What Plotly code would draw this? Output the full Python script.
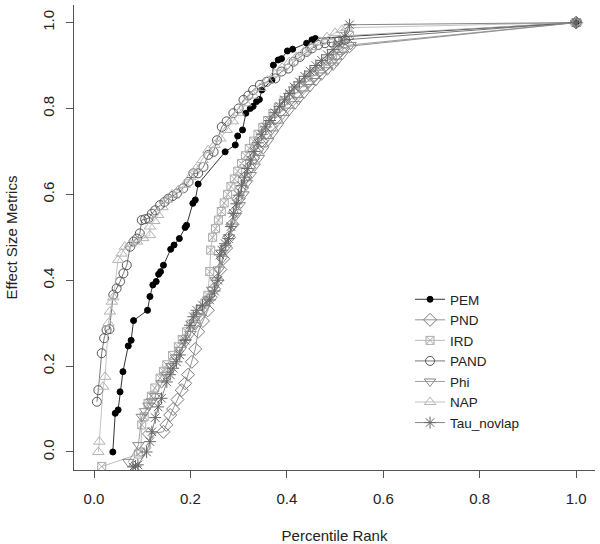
import plotly.graph_objects as go

# ---------------- data ----------------
pem_x = [0.039, 0.044, 0.050, 0.054, 0.060, 0.071, 0.077, 0.082, 0.111, 0.116, 0.122, 0.129, 0.134, 0.138, 0.144,
         0.159, 0.166, 0.177, 0.189, 0.192, 0.205, 0.210, 0.216, 0.272, 0.293, 0.298, 0.308, 0.315, 0.324, 0.330,
         0.337, 0.343, 0.348, 0.369, 0.372, 0.382, 0.389, 0.401, 0.412, 0.441, 0.452, 0.459, 1.0]
pem_y = [0.000, 0.090, 0.098, 0.140, 0.187, 0.247, 0.260, 0.306, 0.330, 0.362, 0.389, 0.397, 0.414, 0.420, 0.435,
         0.472, 0.482, 0.497, 0.523, 0.528, 0.579, 0.587, 0.624, 0.699, 0.715, 0.736, 0.750, 0.789, 0.800, 0.805,
         0.816, 0.821, 0.843, 0.866, 0.901, 0.913, 0.916, 0.934, 0.938, 0.952, 0.960, 0.963, 1.0]

pnd_x = [0.114, 0.144, 0.150, 0.158, 0.164, 0.173, 0.182, 0.189, 0.195, 0.203, 0.210, 0.216, 0.226, 0.236, 0.242,
         0.249, 0.256, 0.262, 0.268, 0.274, 0.280, 0.287, 0.293, 0.300, 0.307, 0.314, 0.322, 0.330, 0.338, 0.347,
         0.356, 0.366, 0.376, 0.386, 0.397, 0.408, 0.419, 0.431, 0.443, 0.455, 0.467, 0.479, 0.491, 0.503, 0.517,
         0.530, 1.0]
pnd_y = [0.042, 0.047, 0.063, 0.086, 0.100, 0.122, 0.144, 0.160, 0.180, 0.210, 0.240, 0.280, 0.305, 0.330, 0.360,
         0.380, 0.400, 0.425, 0.450, 0.475, 0.500, 0.530, 0.560, 0.590, 0.615, 0.640, 0.662, 0.684, 0.705, 0.724,
         0.742, 0.760, 0.777, 0.793, 0.808, 0.822, 0.836, 0.850, 0.863, 0.876, 0.888, 0.900, 0.912, 0.925, 0.940,
         0.945, 1.0]

ird_x = [0.016, 0.092, 0.097, 0.099, 0.104, 0.112, 0.119, 0.126, 0.137, 0.144, 0.151, 0.163, 0.175, 0.183, 0.192,
         0.201, 0.210, 0.220, 0.230, 0.236, 0.240, 0.242, 0.246, 0.252, 0.258, 0.264, 0.270, 0.277, 0.284, 0.291,
         0.298, 0.306, 0.314, 0.322, 0.331, 0.340, 0.350, 0.360, 0.371, 0.382, 0.394, 0.406, 0.418, 0.430, 0.443,
         0.456, 0.469, 0.482, 0.495, 0.508, 0.520, 0.530, 1.0]
ird_y = [-0.034, -0.005, 0.000, 0.063, 0.082, 0.113, 0.130, 0.149, 0.172, 0.188, 0.203, 0.225, 0.245, 0.262, 0.280,
         0.298, 0.315, 0.332, 0.347, 0.365, 0.420, 0.470, 0.500, 0.520, 0.540, 0.560, 0.580, 0.600, 0.618, 0.636,
         0.654, 0.672, 0.690, 0.707, 0.724, 0.740, 0.756, 0.772, 0.788, 0.803, 0.818, 0.832, 0.846, 0.860, 0.873,
         0.886, 0.898, 0.910, 0.922, 0.935, 0.950, 0.970, 1.0]

pand_x = [0.006, 0.009, 0.016, 0.021, 0.026, 0.032, 0.040, 0.047, 0.054, 0.061, 0.068, 0.075, 0.082, 0.089, 0.095,
          0.099, 0.106, 0.113, 0.120, 0.127, 0.137, 0.146, 0.154, 0.163, 0.172, 0.185, 0.196, 0.206, 0.216, 0.227,
          0.237, 0.248, 0.255, 0.265, 0.275, 0.289, 0.300, 0.310, 0.320, 0.330, 0.344, 0.358, 0.376, 0.389, 0.403,
          0.414, 0.427, 0.441, 0.452, 0.465, 0.479, 0.493, 0.507, 0.521, 1.0]
pand_y = [0.117, 0.144, 0.230, 0.265, 0.284, 0.286, 0.366, 0.381, 0.397, 0.416, 0.435, 0.478, 0.490, 0.497, 0.509,
          0.540, 0.542, 0.544, 0.555, 0.563, 0.575, 0.582, 0.590, 0.596, 0.602, 0.614, 0.629, 0.649, 0.649, 0.664,
          0.692, 0.699, 0.726, 0.757, 0.770, 0.789, 0.800, 0.820, 0.830, 0.843, 0.855, 0.862, 0.870, 0.886, 0.893,
          0.909, 0.920, 0.932, 0.940, 0.948, 0.952, 0.954, 0.956, 0.960, 1.0]

phi_x = [0.071, 0.092, 0.099, 0.106, 0.113, 0.120, 0.127, 0.140, 0.150, 0.160, 0.170, 0.180, 0.190, 0.200, 0.210,
         0.220, 0.229, 0.237, 0.245, 0.252, 0.259, 0.266, 0.273, 0.280, 0.287, 0.294, 0.302, 0.310, 0.317, 0.325,
         0.333, 0.342, 0.351, 0.361, 0.371, 0.382, 0.393, 0.405, 0.417, 0.424, 0.436, 0.448, 0.460, 0.472, 0.484,
         0.496, 0.503, 0.515, 0.532, 1.0]
phi_y = [-0.023, 0.016, 0.082, 0.095, 0.108, 0.118, 0.130, 0.160, 0.180, 0.200, 0.220, 0.238, 0.256, 0.275, 0.295,
         0.315, 0.335, 0.355, 0.378, 0.400, 0.425, 0.450, 0.475, 0.500, 0.525, 0.550, 0.575, 0.600, 0.626, 0.645,
         0.665, 0.685, 0.705, 0.724, 0.742, 0.760, 0.778, 0.795, 0.810, 0.820, 0.835, 0.850, 0.864, 0.877, 0.889,
         0.900, 0.909, 0.925, 0.948, 1.0]

nap_x = [0.009, 0.011, 0.019, 0.023, 0.030, 0.033, 0.037, 0.040, 0.050, 0.057, 0.064, 0.075, 0.089, 0.102, 0.116,
         0.116, 0.125, 0.133, 0.142, 0.151, 0.162, 0.175, 0.188, 0.200, 0.212, 0.225, 0.237, 0.250, 0.262, 0.275,
         0.288, 0.300, 0.315, 0.330, 0.345, 0.360, 0.375, 0.390, 0.405, 0.420, 0.435, 0.450, 0.468, 0.483, 0.500,
         0.514, 0.524, 1.0]
nap_y = [0.000, 0.024, 0.152, 0.175, 0.300, 0.327, 0.350, 0.360, 0.447, 0.462, 0.478, 0.484, 0.490, 0.498, 0.505,
         0.525, 0.538, 0.552, 0.570, 0.587, 0.600, 0.610, 0.622, 0.640, 0.660, 0.680, 0.703, 0.715, 0.730, 0.750,
         0.770, 0.790, 0.812, 0.830, 0.848, 0.865, 0.880, 0.895, 0.908, 0.920, 0.932, 0.943, 0.955, 0.966, 0.976,
         0.983, 0.988, 1.0]

tau_x = [0.081, 0.086, 0.091, 0.109, 0.116, 0.120, 0.127, 0.133, 0.140, 0.151, 0.158, 0.164, 0.171, 0.178, 0.189,
         0.199, 0.206, 0.213, 0.225, 0.240, 0.250, 0.257, 0.261, 0.265, 0.272, 0.279, 0.284, 0.289, 0.295, 0.300,
         0.306, 0.312, 0.318, 0.325, 0.332, 0.340, 0.348, 0.356, 0.365, 0.375, 0.385, 0.395, 0.405, 0.415, 0.426,
         0.437, 0.448, 0.460, 0.472, 0.484, 0.496, 0.508, 0.520, 0.530, 1.0]
tau_y = [-0.035, -0.033, -0.030, 0.000, 0.024, 0.047, 0.080, 0.105, 0.125, 0.163, 0.180, 0.195, 0.210, 0.226, 0.260,
         0.295, 0.315, 0.330, 0.342, 0.354, 0.375, 0.400, 0.459, 0.470, 0.485, 0.497, 0.525, 0.556, 0.578, 0.598,
         0.620, 0.640, 0.660, 0.680, 0.700, 0.720, 0.740, 0.757, 0.772, 0.790, 0.805, 0.820, 0.835, 0.850, 0.862,
         0.875, 0.887, 0.900, 0.912, 0.925, 0.937, 0.950, 0.968, 0.995, 1.0]

x_ticks = [0.0, 0.2, 0.4, 0.6, 0.8, 1.0]
y_ticks = [0.0, 0.2, 0.4, 0.6, 0.8, 1.0]
tick_text = ["0.0", "0.2", "0.4", "0.6", "0.8", "1.0"]

# ---------------- styling ----------------
series = [
    ("PEM", pem_x, pem_y, "circle", "#000000", 6),
    ("PND", pnd_x, pnd_y, "diamond-open", "#7a7a7a", 10),
    ("IRD", ird_x, ird_y, "square-x-open", "#aaaaaa", 8),
    ("PAND", pand_x, pand_y, "circle-open", "#555555", 9),
    ("Phi", phi_x, phi_y, "triangle-down-open", "#888888", 10),
    ("NAP", nap_x, nap_y, "triangle-up-open", "#b4b4b4", 10),
    ("Tau_novlap", tau_x, tau_y, "asterisk-open", "#666666", 10),
]

fig = go.Figure()
for name, xs, ys, sym, col, sz in series:
    fig.add_trace(go.Scatter(
        x=xs, y=ys, name=name, mode="lines+markers",
        line=dict(color=col, width=0.8),
        marker=dict(symbol=sym, color=col, size=sz, line=dict(color=col, width=1)),
    ))

font_family = "Liberation Sans, Arial, sans-serif"
axis_col = "#555555"

fig.update_layout(
    width=600, height=544,
    margin=dict(l=74, r=5, t=5, b=74, autoexpand=False),
    paper_bgcolor="white", plot_bgcolor="white",
    font=dict(family=font_family, size=15, color="#222222"),
    showlegend=True,
    legend=dict(x=0.645, y=0.40, xanchor="left", yanchor="top",
                bgcolor="rgba(0,0,0,0)", borderwidth=0,
                font=dict(size=13.5), tracegroupgap=0, itemwidth=30),
    xaxis=dict(range=[-0.0415, 1.039], tickvals=x_ticks, ticktext=tick_text, automargin=False,
               showgrid=False, zeroline=False, showline=True, linecolor=axis_col, linewidth=1,
               ticks="outside", ticklen=7, tickcolor=axis_col, ticklabelstandoff=8,
               tickfont=dict(size=15),
               title=dict(text="Percentile Rank", standoff=30, font=dict(size=15))),
    yaxis=dict(range=[-0.042, 1.041], tickvals=y_ticks, ticktext=tick_text, tickangle=-90, automargin=False,
               showgrid=False, zeroline=False, showline=True, linecolor=axis_col, linewidth=1,
               ticks="outside", ticklen=7, tickcolor=axis_col, ticklabelstandoff=6,
               tickfont=dict(size=15),
               title=dict(text="Effect Size Metrics", standoff=18, font=dict(size=15))),
)

fig.write_html("out.html", config={"displayModeBar": False},
               post_script="document.body.style.margin='0';")
